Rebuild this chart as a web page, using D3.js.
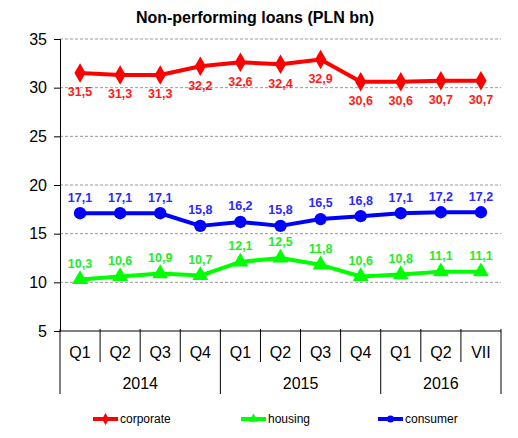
<!DOCTYPE html>
<html>
<head>
<meta charset="utf-8">
<script src="https://cdn.jsdelivr.net/npm/d3@7"></script>
<style>
  html, body { margin: 0; padding: 0; background: #fff; }
  svg { display: block; font-family: Arial, "Liberation Sans", sans-serif; }
</style>
</head>
<body>
<svg id="chart" width="518" height="438"></svg>
<script>
// Periods and their year groups
const quarters = ["Q1", "Q2", "Q3", "Q4", "Q1", "Q2", "Q3", "Q4", "Q1", "Q2", "VII"];
const years = ["2014", "2015", "2016"];
const yearSpans = [4, 4, 3];

// Non-performing loans, PLN bn
const corporate = [31.5, 31.3, 31.3, 32.2, 32.6, 32.4, 32.9, 30.6, 30.6, 30.7, 30.7];
const housing   = [10.3, 10.6, 10.9, 10.7, 12.1, 12.5, 11.8, 10.6, 10.8, 11.1, 11.1];
const consumer  = [17.1, 17.1, 17.1, 15.8, 16.2, 15.8, 16.5, 16.8, 17.1, 17.2, 17.2];

const yTicks = [5, 10, 15, 20, 25, 30, 35];

const seriesList = [
  { name: "corporate", values: corporate, color: "#ff0000", labelColor: "#ff1a1a", symbol: d3.symbolDiamond, size: 110, labelDy: 19 },
  { name: "housing",   values: housing,   color: "#00ff00", labelColor: "#22ee22", symbol: d3.symbolTriangle, size: 110, labelDy: -16 },
  { name: "consumer",  values: consumer,  color: "#0000ff", labelColor: "#2a2aff", symbol: d3.symbolCircle, size: 120, labelDy: -16 }
];

const svg = d3.select("#chart");
const plotLeft = 60, plotRight = 501, plotTop = 39, plotBottom = 331;

const x = d3.scaleBand().domain(d3.range(quarters.length)).range([plotLeft, plotRight]);
const y = d3.scaleLinear().domain([5, 35]).range([plotBottom, plotTop]);

// Title
svg.append("text")
  .attr("x", 255).attr("y", 23)
  .attr("text-anchor", "middle")
  .attr("font-weight", "bold")
  .attr("font-size", 16)
  .text("Non-performing loans (PLN bn)");

// Dashed gridlines
svg.append("g").selectAll("line")
  .data(yTicks.filter(t => t > 5))
  .join("line")
  .attr("x1", plotLeft).attr("x2", plotRight)
  .attr("y1", d => y(d)).attr("y2", d => y(d))
  .attr("stroke", "#999").attr("stroke-width", 1)
  .attr("stroke-dasharray", "3,2");

// Y axis
const yAxis = d3.axisLeft(y).tickValues(yTicks).tickSize(6).tickPadding(7).tickFormat(d3.format("d"));
const gy = svg.append("g").attr("transform", `translate(${plotLeft},0)`).call(yAxis);
gy.select(".domain").attr("stroke", "#000");
gy.selectAll(".tick line").attr("stroke", "#000");
gy.selectAll(".tick text").attr("font-size", 16).attr("fill", "#000").attr("font-family", "Arial, 'Liberation Sans', sans-serif");

// X axis line
svg.append("line")
  .attr("x1", plotLeft).attr("x2", plotRight)
  .attr("y1", plotBottom).attr("y2", plotBottom)
  .attr("stroke", "#000");

// Category separators
const bounds = d3.range(quarters.length + 1).map(i => i < quarters.length ? x(i) : x(quarters.length - 1) + x.bandwidth());
const yearBounds = new Set([0]);
let acc = 0;
yearSpans.forEach(s => { acc += s; yearBounds.add(acc); });

svg.append("g").selectAll("line")
  .data(bounds)
  .join("line")
  .attr("x1", d => d).attr("x2", d => d)
  .attr("y1", plotBottom - 2)
  .attr("y2", (d, i) => yearBounds.has(i) ? 394 : 362)
  .attr("stroke", "#000");

// Quarter labels
svg.append("g").selectAll("text")
  .data(quarters)
  .join("text")
  .attr("x", (d, i) => x(i) + x.bandwidth() / 2)
  .attr("y", 358)
  .attr("text-anchor", "middle")
  .attr("font-size", 16)
  .text(d => d);

// Year labels
let start = 0;
years.forEach((yr, k) => {
  const x0 = x(start), x1 = bounds[start + yearSpans[k]];
  svg.append("text")
    .attr("x", (x0 + x1) / 2).attr("y", 389)
    .attr("text-anchor", "middle")
    .attr("font-size", 16)
    .text(yr);
  start += yearSpans[k];
});

const cx = i => x(i) + x.bandwidth() / 2;
const fmt = v => d3.format(".1f")(v).replace(".", ",");

// Series lines, markers, labels
seriesList.forEach(s => {
  const g = svg.append("g");
  g.append("path")
    .datum(s.values)
    .attr("fill", "none")
    .attr("stroke", s.color)
    .attr("stroke-width", 4)
    .attr("stroke-linejoin", "round")
    .attr("d", d3.line().x((d, i) => cx(i)).y(d => y(d)));
  g.selectAll("path.m")
    .data(s.values)
    .join("path")
    .attr("class", "m")
    .attr("transform", (d, i) => `translate(${cx(i)},${y(d)})`)
    .attr("d", d3.symbol().type(s.symbol).size(s.size))
    .attr("fill", s.color);
  g.selectAll("text")
    .data(s.values)
    .join("text")
    .attr("x", (d, i) => cx(i))
    .attr("y", d => y(d) + s.labelDy)
    .attr("dy", "0.35em")
    .attr("text-anchor", "middle")
    .attr("font-weight", "bold")
    .attr("font-size", 12.5)
    .attr("fill", s.labelColor)
    .text(d => fmt(d));
});

// Legend
const legendX = [93, 241, 378];
seriesList.forEach((s, k) => {
  const g = svg.append("g").attr("transform", `translate(${legendX[k]},419)`);
  g.append("line").attr("x1", 0).attr("x2", 25).attr("y1", 0).attr("y2", 0)
    .attr("stroke", s.color).attr("stroke-width", 4);
  g.append("path").attr("transform", "translate(12.5,0)")
    .attr("d", d3.symbol().type(s.symbol).size(40)).attr("fill", s.color);
  g.append("text").attr("x", 27).attr("y", 0).attr("dy", "0.35em")
    .attr("font-size", 12).text(s.name);
});
</script>
</body>
</html>
